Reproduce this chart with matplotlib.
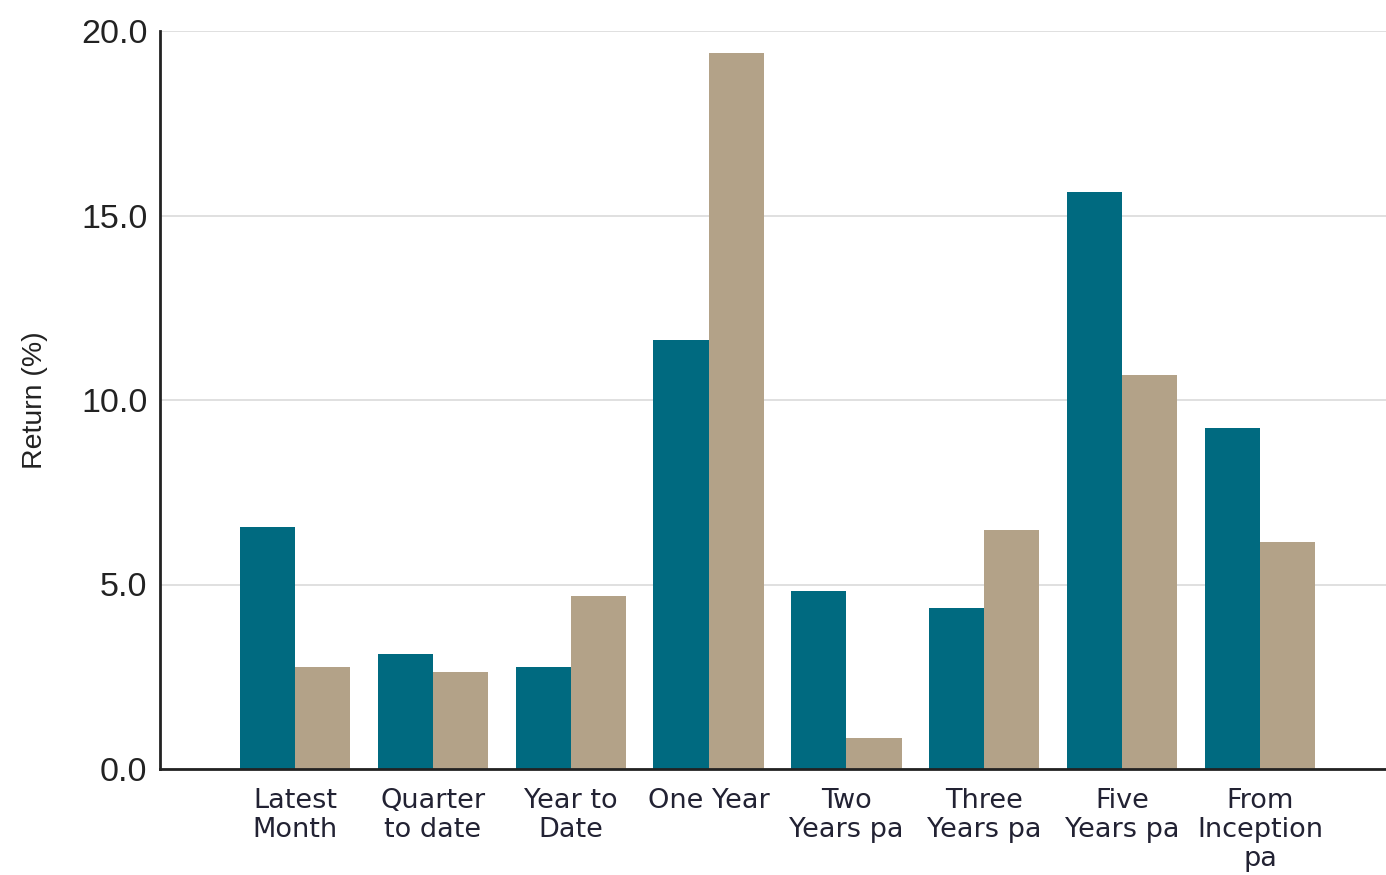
import matplotlib
matplotlib.use("Agg")
import matplotlib.pyplot as plt
import numpy as np

categories = ["Latest\nMonth", "Quarter\nto date", "Year to\nDate", "One Year",
              "Two\nYears pa", "Three\nYears pa", "Five\nYears pa", "From\nInception\npa"]
series_a = [6.56, 3.12, 2.76, 11.63, 4.82, 4.36, 15.64, 9.24]
series_b = [2.76, 2.63, 4.69, 19.40, 0.84, 6.48, 10.68, 6.15]
yticks = [0.0, 5.0, 10.0, 15.0, 20.0]

fig = plt.figure(figsize=(13.86, 8.75), dpi=100)
ax = fig.add_axes([160/1386, 1-769/875, 1-160/1386, (769-31)/875])

x = np.arange(len(categories))
w = 0.4
ax.bar(x - w/2, series_a, width=w, color="#006A80", zorder=3)
ax.bar(x + w/2, series_b, width=w, color="#B3A288", zorder=3)

ax.set_xlim(-0.979, 7.914)
ax.set_ylim(0, 20)
ax.set_yticks(yticks)
ax.set_yticklabels([f"{v:.1f}" for v in yticks], fontsize=24.5, color="#222222",
                   family="Liberation Sans")
ax.set_xticks(x)
ax.set_xticklabels(categories, fontsize=19.5, color="#222233", linespacing=1.15,
                   family="DejaVu Sans")
ax.tick_params(axis="both", length=0)
ax.tick_params(axis="y", pad=9)
ax.tick_params(axis="x", pad=14)
ax.grid(axis="y", color="#dddddd", linewidth=1.3, zorder=0)
for s in ["top", "right"]:
    ax.spines[s].set_visible(False)
ax.spines["left"].set_linewidth(2)
ax.spines["bottom"].set_linewidth(2)
ax.spines["left"].set_color("#222222")
ax.spines["bottom"].set_color("#222222")
ax.spines["left"].set_zorder(4)
ax.spines["bottom"].set_zorder(4)

fig.text(35/1386, 1-400/875, "Return (%)", rotation=90, ha="center", va="center",
         fontsize=20.5, color="#222222", family="Liberation Sans")

fig.savefig("out.png", dpi=100)
